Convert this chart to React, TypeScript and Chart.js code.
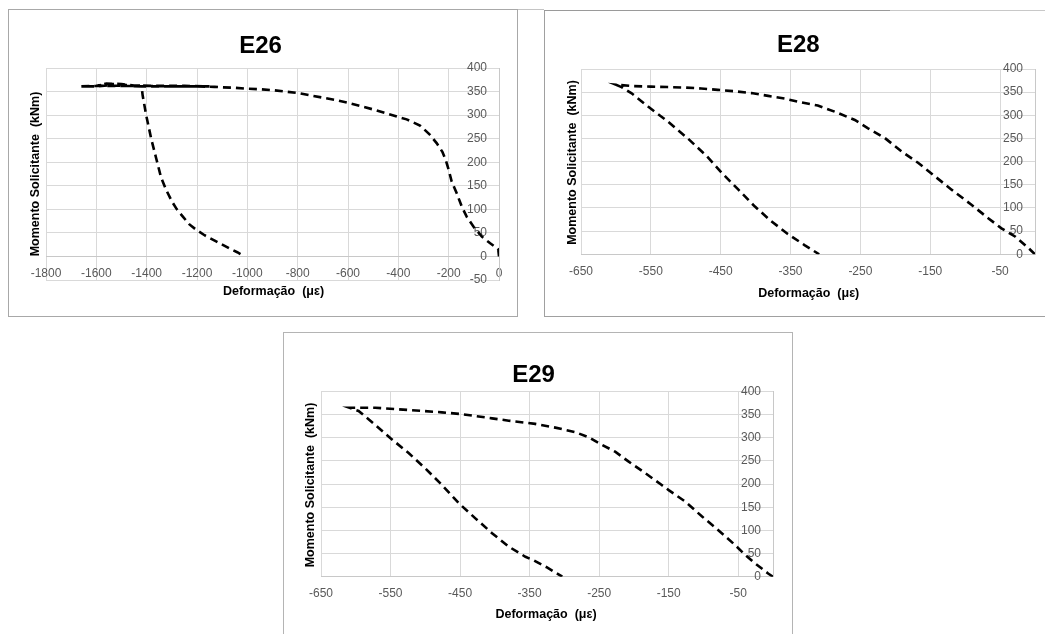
import React, { useEffect, useRef } from 'react';
import { Chart, registerables } from 'chart.js';

Chart.register(...registerables);

// ---------- E26 ----------
const e26Strain = [
  0, -3, -20, -35, -68, -101, -128, -148, -168, -188, -200, -212, -225, -247, -274, -314, -367, -400, -450, -500,
  -550, -600, -650, -700, -750, -800, -850, -900, -950, -1000, -1050, -1100, -1130,
  -1200, -1300, -1400, -1480, -1520, -1560, -1600, -1560, -1500, -1450, -1350, -1250, -1150, -1250, -1400, -1550,
  -1600, -1660, -1600, -1500, -1420,
  -1416, -1402, -1382, -1362, -1343, -1323, -1300, -1280, -1257, -1230, -1204, -1170, -1124, -1071, -1040, -1011,
];
const e26Moment = [
  0, 15, 22, 28, 42, 63, 84, 106, 134, 159, 184, 205, 222, 240, 258, 278, 291, 296, 304, 312,
  319, 326, 332, 337, 342, 347, 350, 353, 355, 356, 358, 359, 360,
  361, 361, 362, 364, 366, 366, 362, 367, 366, 363, 362, 362, 361, 361, 361, 363,
  361, 361, 362, 362, 361,
  342, 300, 250, 208, 168, 142, 117, 100, 85, 68, 57, 45, 32, 17, 9, 0,
];
const e26XTicks = [-1800, -1600, -1400, -1200, -1000, -800, -600, -400, -200, 0];
const e26YTicks = [-50, 0, 50, 100, 150, 200, 250, 300, 350, 400];
const e26XRange = [-1800, 0];
const e26YRange = [-50, 400];

// ---------- E28 ----------
const e28Strain = [
  0, -9, -28, -48, -67, -91, -119, -143, -167, -191, -215, -239, -258, -287, -311, -335, -358, -382, -406, -430,
  -454, -478, -502, -526, -550, -574, -600,
  -592, -578, -554, -526, -497, -470, -448, -425, -401, -378, -354, -330, -309,
];
const e28Moment = [
  0, 13, 38, 56, 78, 107, 139, 168, 197, 222, 251, 272, 290, 308, 321, 328, 336, 342, 348, 352,
  355, 358, 360, 361, 362, 363, 366,
  361, 348, 319, 287, 250, 212, 175, 140, 103, 72, 44, 20, 0,
];
const e28XTicks = [-650, -550, -450, -350, -250, -150, -50];
const e28YTicks = [0, 50, 100, 150, 200, 250, 300, 350, 400];
const e28XRange = [-650, 0];
const e28YRange = [0, 400];

// ---------- E29 ----------
const e29Strain = [
  0, -7, -26, -40, -55, -79, -102, -126, -150, -160, -184, -208, -227, -250, -265, -284, -313, -342, -380, -404,
  -447, -476, -524, -572, -609,
  -596, -572, -550, -524, -500, -476, -452, -428, -404, -380, -356, -345, -325, -303,
];
const e29Moment = [
  0, 7, 29, 47, 69, 101, 130, 162, 187, 198, 224, 249, 270, 288, 301, 312, 322, 330, 337, 342,
  351, 355, 360, 365, 365,
  358, 328, 299, 267, 234, 198, 159, 126, 94, 65, 43, 36, 20, 0,
];
const e29XTicks = [-650, -550, -450, -350, -250, -150, -50];
const e29YTicks = [0, 50, 100, 150, 200, 250, 300, 350, 400];
const e29XRange = [-650, 0];
const e29YRange = [0, 400];

const yTitle = 'Momento Solicitante  (kNm)';
const xTitle = 'Deformação  (με)';

const FONT = '"Liberation Sans", Arial, sans-serif';
const TICK_COLOR = '#595959';

type PanelProps = {
  title: string;
  strain: number[];
  moment: number[];
  xTicks: number[];
  yTicks: number[];
  xRange: number[];
  yRange: number[];
  boxStyle: React.CSSProperties;
  canvasW: number;
  canvasH: number;
  padding: { left: number; right: number; top: number; bottom: number };
  titlePos: [number, number];
  yTitlePos: [number, number];
  xTitlePos: [number, number];
};

function Panel(p: PanelProps) {
  const ref = useRef<HTMLCanvasElement | null>(null);
  useEffect(() => {
    if (!ref.current) return;
    const textPlugin = {
      id: 'panelTexts',
      beforeDatasetsDraw(chart: any) {
        // vertical-axis labels, placed Excel-style on the left of the axis line at x = 0
        const ctx = chart.ctx as CanvasRenderingContext2D;
        const xs = chart.scales.x;
        const ys = chart.scales.y;
        const axisX = xs.getPixelForValue(0);
        ctx.save();
        ctx.fillStyle = TICK_COLOR;
        ctx.font = `12px ${FONT}`;
        ctx.textAlign = 'right';
        ctx.textBaseline = 'middle';
        for (const v of p.yTicks) {
          ctx.fillText(`${v}`, axisX - 12, ys.getPixelForValue(v));
        }
        ctx.restore();
      },
      afterDraw(chart: any) {
        const ctx = chart.ctx as CanvasRenderingContext2D;
        ctx.save();
        ctx.fillStyle = '#000';
        ctx.textAlign = 'center';
        ctx.textBaseline = 'middle';
        ctx.font = `bold 24px ${FONT}`;
        ctx.fillText(p.title, p.titlePos[0], p.titlePos[1]);
        ctx.font = `bold 12.5px ${FONT}`;
        ctx.fillText(xTitle, p.xTitlePos[0], p.xTitlePos[1]);
        ctx.translate(p.yTitlePos[0], p.yTitlePos[1]);
        ctx.rotate(-Math.PI / 2);
        ctx.fillText(yTitle, 0, 0);
        ctx.restore();
      },
    };
    const chart = new Chart(ref.current, {
      type: 'scatter',
      data: {
        datasets: [
          {
            data: p.strain.map((x, i) => ({ x, y: p.moment[i] })),
            showLine: true,
            borderColor: '#000',
            backgroundColor: '#000',
            borderWidth: 2.6,
            borderDash: [8, 5],
            pointRadius: 0,
            tension: 0,
            fill: false,
          },
        ],
      },
      options: {
        responsive: false,
        animation: false,
        layout: { padding: p.padding },
        plugins: {
          legend: { display: false },
          title: { display: false },
          tooltip: { enabled: false },
        },
        scales: {
          x: {
            type: 'linear',
            min: p.xRange[0],
            max: p.xRange[1],
            position: { y: 0 } as any,
            afterBuildTicks: (s: any) => {
              s.ticks = p.xTicks.map((v) => ({ value: v }));
            },
            grid: { color: '#d9d9d9', lineWidth: 1, drawTicks: false },
            border: { display: true, color: '#c8c8c8' },
            ticks: {
              autoSkip: false,
              maxRotation: 0,
              padding: 10,
              color: TICK_COLOR,
              font: { family: FONT, size: 12 },
              callback: (v: any) => `${v}`,
            },
          },
          y: {
            type: 'linear',
            min: p.yRange[0],
            max: p.yRange[1],
            position: { x: 0 } as any,
            afterBuildTicks: (s: any) => {
              s.ticks = p.yTicks.map((v) => ({ value: v }));
            },
            grid: { color: '#d9d9d9', lineWidth: 1, drawTicks: false },
            border: { display: true, color: '#c8c8c8' },
            ticks: { display: false },
          },
        },
      },
      plugins: [textPlugin],
    } as any);
    return () => chart.destroy();
  }, []);
  return (
    <div style={{ position: 'absolute', boxSizing: 'border-box', background: '#fff', ...p.boxStyle }}>
      <canvas ref={ref} width={p.canvasW} height={p.canvasH} style={{ display: 'block' }} />
    </div>
  );
}

export default function App() {
  return (
    <div>
      <div style={{ position: 'absolute', left: 518, top: 9, width: 26, height: 1, background: '#c4c4c4' }} />
      <Panel
        title="E26"
        strain={e26Strain}
        moment={e26Moment}
        xTicks={e26XTicks}
        yTicks={e26YTicks}
        xRange={e26XRange}
        yRange={e26YRange}
        boxStyle={{ left: 8, top: 9, width: 510, height: 308, border: '1px solid #a8a8a8' }}
        canvasW={508}
        canvasH={306}
        padding={{ left: 37, right: 18, top: 58, bottom: 36 }}
        titlePos={[251.5, 36]}
        yTitlePos={[26.7, 164]}
        xTitlePos={[264.5, 281.7]}
      />
      <Panel
        title="E28"
        strain={e28Strain}
        moment={e28Moment}
        xTicks={e28XTicks}
        yTicks={e28YTicks}
        xRange={e28XRange}
        yRange={e28YRange}
        boxStyle={{
          left: 544,
          top: 10,
          width: 501,
          height: 307,
          borderLeft: '1px solid #a0a0a0',
          borderTop: '1px solid #c8c8c8',
          borderBottom: '1px solid #a0a0a0',
        }}
        canvasW={500}
        canvasH={305}
        padding={{ left: 36, right: 10, top: 58, bottom: 61.7 }}
        titlePos={[253.3, 34]}
        yTitlePos={[27.7, 151.5]}
        xTitlePos={[263.7, 282.3]}
      />
      <div style={{ position: 'absolute', left: 544, top: 10, width: 346, height: 1, background: '#9a9a9a' }} />
      <Panel
        title="E29"
        strain={e29Strain}
        moment={e29Moment}
        xTicks={e29XTicks}
        yTicks={e29YTicks}
        xRange={e29XRange}
        yRange={e29YRange}
        boxStyle={{
          left: 283,
          top: 332,
          width: 510,
          height: 302,
          borderLeft: '1px solid #b4b4b4',
          borderTop: '1px solid #b4b4b4',
          borderRight: '1px solid #b4b4b4',
        }}
        canvasW={508}
        canvasH={301}
        padding={{ left: 37, right: 19, top: 58.5, bottom: 57.3 }}
        titlePos={[249.5, 42.5]}
        yTitlePos={[26.7, 152]}
        xTitlePos={[262, 282]}
      />
    </div>
  );
}
